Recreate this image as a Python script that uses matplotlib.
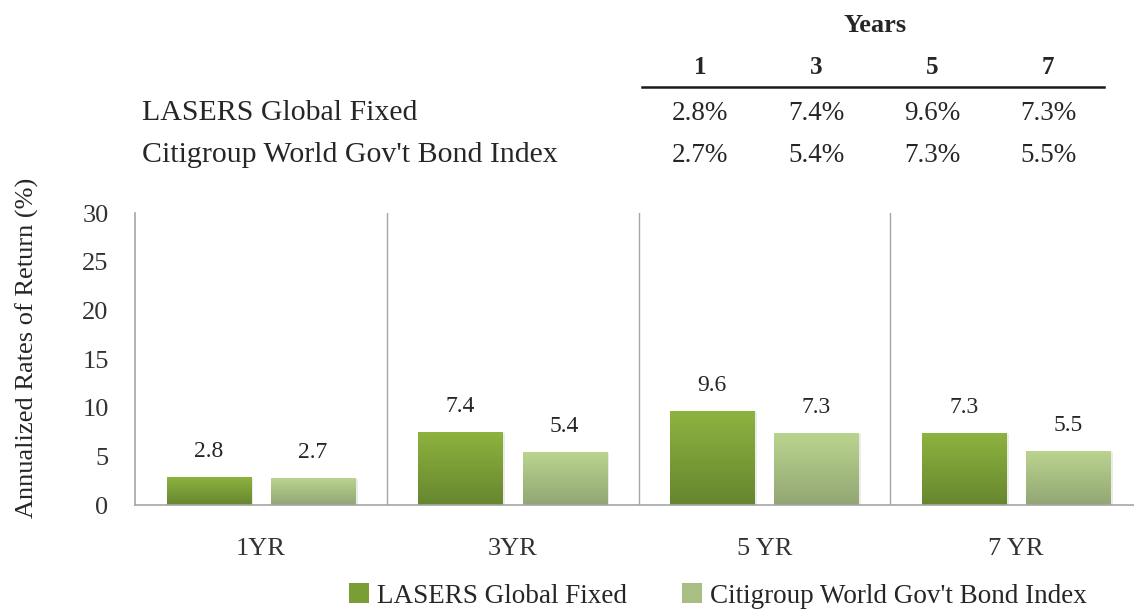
import numpy as np
import matplotlib
matplotlib.use("Agg")
import matplotlib.pyplot as plt
from matplotlib.patches import Patch

plt.rcParams['font.family'] = ['Liberation Serif', 'DejaVu Serif']

# data
categories = ["1YR", "3YR", "5 YR", "7 YR"]
years = ["1", "3", "5", "7"]
series_names = ["LASERS Global Fixed", "Citigroup World Gov't Bond Index"]
lasers = [2.8, 7.4, 9.6, 7.3]
citi = [2.7, 5.4, 7.3, 5.5]

W, H = 1134, 609
fig = plt.figure(figsize=(W / 100, H / 100), dpi=100)

def px(x, y):
    return x / W, 1 - y / H

txt = "#262626"

# table on top
fig.text(*px(875, 25), "Years", ha="center", va="center", fontsize=19,
         fontweight="bold", color=txt)
col_x = [700, 816, 932, 1048]
for cx, yr in zip(col_x, years):
    fig.text(*px(cx, 68), yr, ha="center", va="center", fontsize=18,
             fontweight="bold", color=txt)
fig.add_artist(plt.Line2D([642 / W, 1104 / W], [1 - 87 / H] * 2,
                          color="#1a1a1a", lw=1.8))
for row_y, name, vals in [(113, series_names[0], lasers), (155, series_names[1], citi)]:
    fig.text(*px(142, row_y), name, ha="left", va="center", fontsize=21.5, color=txt)
    for cx, v in zip(col_x, vals):
        fig.text(*px(cx, row_y), f"{v:.1f}%", ha="center", va="center",
                 fontsize=19.5, color=txt)

# bar chart
left, right, top, bottom = 135, 1142, 213, 505
ax = fig.add_axes([left / W, 1 - bottom / H, (right - left) / W, (bottom - top) / H])

x = np.arange(len(categories))
bw = 0.334
off = 0.207
b1 = ax.bar(x - off, lasers, bw, color="none", edgecolor="none")
b2 = ax.bar(x + off, citi, bw, color="none", edgecolor="none")

def grad_fill(bars, top_c, bot_c):
    top_c = np.array(matplotlib.colors.to_rgb(top_c))
    bot_c = np.array(matplotlib.colors.to_rgb(bot_c))
    t = np.linspace(0, 1, 64)[:, None]
    img = (top_c * (1 - t) + bot_c * t)[:, None, :]
    for b in bars:
        x0, w, h = b.get_x(), b.get_width(), b.get_height()
        # soft shadow
        ax.bar(x0 + w / 2 + 0.01, h, w, bottom=-0.05, color="#000000", alpha=0.08,
               zorder=1)
        ax.imshow(img, extent=[x0, x0 + w, 0, h], aspect="auto", zorder=2,
                  interpolation="bilinear")

grad_fill(b1, "#8DB33F", "#66862E")
grad_fill(b2, "#BAD48E", "#92A674")

for bars, vals in [(b1, lasers), (b2, citi)]:
    for b, v in zip(bars, vals):
        ax.annotate(f"{v:.1f}", (b.get_x() + b.get_width() / 2, v),
                    xytext=(0, 19), textcoords="offset points",
                    ha="center", va="center", fontsize=17, color=txt)

ax.set_xlim(-0.5, len(categories) - 0.5)
ax.set_ylim(0, 30)
ax.set_yticks(range(0, 31, 5))
ax.set_xticks(x)
ax.set_xticklabels(categories)
ax.tick_params(axis="both", length=0, labelsize=19, labelcolor="#333333")
ax.tick_params(axis="y", pad=19)
ax.tick_params(axis="x", pad=24)
for xv in x[:-1] + 0.5:
    ax.axvline(xv, color="#A6A6A6", lw=1.0, zorder=0)
for s in ["top", "right"]:
    ax.spines[s].set_visible(False)
for s in ["left", "bottom"]:
    ax.spines[s].set_color("#A6A6A6")
    ax.spines[s].set_linewidth(1.2)

fig.text(*px(27, 348), "Annualized Rates of Return (%)", rotation=90,
         ha="center", va="center", fontsize=19, color=txt)

handles = [Patch(facecolor="#7A9D36", edgecolor="none"),
           Patch(facecolor="#A8BE82", edgecolor="none")]
fig.legend(handles, series_names, loc="center", bbox_to_anchor=(718 / W, 1 - 596 / H),
           ncol=2, frameon=False, fontsize=19.5, handlelength=0.75, handleheight=0.75,
           handletextpad=0.3, columnspacing=2.0, labelcolor=txt)

fig.savefig("out.png", dpi=100)
